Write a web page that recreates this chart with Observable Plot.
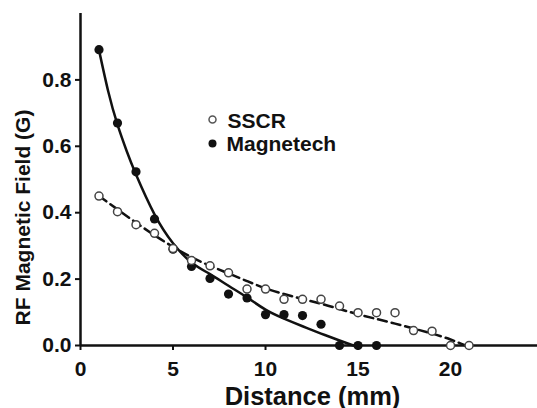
<!DOCTYPE html>
<html>
<head>
<meta charset="utf-8">
<script src="https://cdn.jsdelivr.net/npm/d3@7"></script>
<script src="https://cdn.jsdelivr.net/npm/@observablehq/plot@0.6"></script>
<style>
  html, body { margin: 0; padding: 0; background: #fff; }
  #chart svg { display: block; }
</style>
</head>
<body>
<div id="chart"></div>
<script>
// Measured points
const sscrDist = [1, 2, 3, 4, 5, 6, 7, 8, 9, 10, 11, 12, 13, 14, 15, 16, 17, 18, 19, 20, 21];
const sscrField = [0.45, 0.403, 0.364, 0.338, 0.292, 0.256, 0.24, 0.219, 0.17, 0.17, 0.139, 0.139, 0.139, 0.119, 0.099, 0.099, 0.099, 0.045, 0.043, 0, 0];
const magDist = [1, 2, 3, 4, 5, 6, 7, 8, 9, 10, 11, 12, 13, 14, 15, 16];
const magField = [0.891, 0.67, 0.523, 0.381, 0.29, 0.238, 0.202, 0.155, 0.143, 0.093, 0.093, 0.09, 0.064, 0, 0, 0];

// Fitted curves
const magFitDist = [1, 1.5, 2, 2.5, 3, 4, 5, 6, 7, 8, 9, 10, 11, 12, 13, 14, 14.75];
const magFitField = [0.89, 0.765, 0.665, 0.585, 0.515, 0.395, 0.308, 0.25, 0.215, 0.18, 0.145, 0.108, 0.081, 0.058, 0.036, 0.015, 0];
const sscrFitDist = [1, 2, 3, 4, 5, 6, 7, 8, 9, 10, 11, 12, 13, 14, 15, 16, 17, 18, 19, 20, 20.8];
const sscrFitField = [0.45, 0.41, 0.37, 0.332, 0.297, 0.266, 0.24, 0.217, 0.194, 0.172, 0.155, 0.14, 0.126, 0.11, 0.094, 0.08, 0.066, 0.051, 0.036, 0.018, 0];

const xTicks = [0, 5, 10, 15, 20];
const yTicks = [0, 0.2, 0.4, 0.6, 0.8];
const seriesNames = ["SSCR", "Magnetech"];
const xTitle = "Distance (mm)";
const yTitle = "RF Magnetic Field (G)";

const sscr = sscrDist.map((d, i) => ({d, v: sscrField[i]}));
const mag = magDist.map((d, i) => ({d, v: magField[i]}));
const magFit = magFitDist.map((d, i) => ({d, v: magFitField[i]}));
const sscrFit = sscrFitDist.map((d, i) => ({d, v: sscrFitField[i]}));

const font = "'Liberation Sans', Arial, Helvetica, sans-serif";
const ink = "#111";

const chart = Plot.plot({
  width: 537,
  height: 408,
  marginLeft: 80,
  marginRight: 0,
  marginTop: 13,
  marginBottom: 63,
  style: {fontFamily: font, background: "#fff", color: ink},
  x: {domain: [0, 24.7]},
  y: {domain: [0, 1.0]},
  marks: [
    Plot.axisX({ticks: xTicks, tickFormat: d3.format("d"), tickSize: 5, tickPadding: 11,
      fontSize: 21, fontWeight: "bold", strokeWidth: 2, label: null, fill: ink, stroke: ink}),
    Plot.axisY({ticks: yTicks, tickFormat: d3.format(".1f"), tickSize: 5, tickPadding: 4,
      fontSize: 21, fontWeight: "bold", strokeWidth: 2, label: null, fill: ink, stroke: ink}),
    Plot.ruleY([0], {stroke: ink, strokeWidth: 2.5}),
    Plot.ruleX([0], {stroke: ink, strokeWidth: 2.5}),
    Plot.line(sscrFit, {x: "d", y: "v", curve: "natural", stroke: ink, strokeWidth: 2.5, strokeDasharray: "9,5"}),
    Plot.line(magFit, {x: "d", y: "v", curve: "natural", stroke: ink, strokeWidth: 2.5}),
    Plot.dot(mag, {x: "d", y: "v", r: 4.6, fill: ink, stroke: "none"}),
    Plot.dot(sscr, {x: "d", y: "v", r: 4, fill: "#fff", stroke: "#444", strokeWidth: 1.5}),
    // legend
    Plot.dot([seriesNames[0]], {frameAnchor: "top-left", dx: 132, dy: 106, r: 3.5, fill: "#fff", stroke: "#555", strokeWidth: 1.5}),
    Plot.dot([seriesNames[1]], {frameAnchor: "top-left", dx: 132, dy: 130, r: 4, fill: ink}),
    Plot.text([seriesNames[0]], {text: d => d, frameAnchor: "top-left", dx: 147, dy: 108, textAnchor: "start", lineAnchor: "middle",
      fontSize: 21, fontWeight: "bold", fill: ink}),
    Plot.text([seriesNames[1]], {text: d => d, frameAnchor: "top-left", dx: 146, dy: 131, textAnchor: "start", lineAnchor: "middle",
      fontSize: 21, fontWeight: "bold", fill: ink}),
    // axis titles
    Plot.text([xTitle], {text: d => d, frameAnchor: "bottom", dx: 312 - (80 + 537) / 2, dy: 59, textAnchor: "middle", lineAnchor: "bottom",
      fontSize: 25.5, fontWeight: "bold", fill: ink}),
    Plot.text([yTitle], {text: d => d, frameAnchor: "left", dx: -57, dy: 217 - (13 + 345) / 2, rotate: -90, textAnchor: "middle", lineAnchor: "middle",
      fontSize: 21, fontWeight: "bold", fill: ink})
  ]
});
document.getElementById("chart").appendChild(chart);
</script>
</body>
</html>
